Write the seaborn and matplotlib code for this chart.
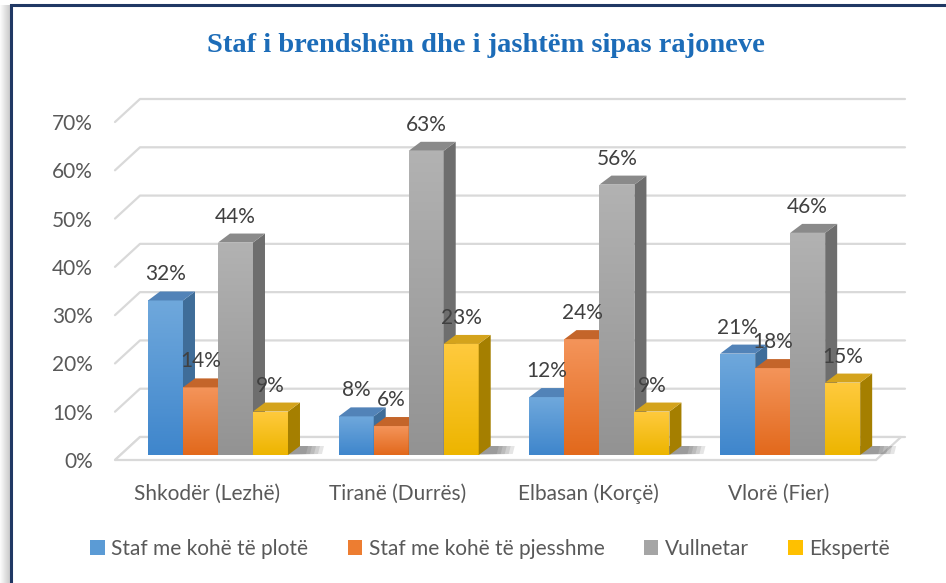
import numpy as np
import pandas as pd
import matplotlib.pyplot as plt
import seaborn as sns
from matplotlib.patches import Polygon, Patch, Rectangle
from matplotlib.colors import LinearSegmentedColormap
from matplotlib.transforms import ScaledTranslation

# Data
regions = ["Shkodër (Lezhë)", "Tiranë (Durrës)", "Elbasan (Korçë)", "Vlorë (Fier)"]
series = ["Staf me kohë të plotë", "Staf me kohë të pjesshme", "Vullnetar", "Ekspertë"]
full_time = [0.32, 0.08, 0.12, 0.21]
part_time = [0.14, 0.06, 0.24, 0.18]
volunteers = [0.44, 0.63, 0.56, 0.46]
experts = [0.09, 0.23, 0.09, 0.15]
y_ticks = [0.0, 0.1, 0.2, 0.3, 0.4, 0.5, 0.6, 0.7]

front_colors = ["#5B9BD5", "#ED7D31", "#A5A5A5", "#FFC000"]
grad_top = ["#6FA8DC", "#F4945A", "#B2B2B2", "#FFCA3E"]
grad_bottom = ["#3F86CC", "#E2691C", "#939393", "#EDB500"]
side_colors = ["#3F6D99", "#A9561E", "#6E6E6E", "#A57F00"]
top_colors = ["#5283B8", "#C4652A", "#8A8A8A", "#D4A31C"]
text_color = "#595959"

df = pd.DataFrame({
    "region": regions * 4,
    "staff": np.repeat(series, 4),
    "value": full_time + part_time + volunteers + experts,
})

sns.set_style("white")
plt.rcParams["font.family"] = ["Lato", "DejaVu Sans"]

W, H = 946, 583
fig = plt.figure(figsize=(W / 100, H / 100), dpi=100)

# frame with a soft shadow on the left
for i in range(10):
    fig.patches.append(Rectangle((i / W, 0), 1 / W, 1 - 5 / H, transform=fig.transFigure,
                                 color="black", alpha=0.02 + 0.02 * i, lw=0, zorder=0))
fig.patches.append(Rectangle((11 / W, -0.1), 1.2, 1 - 5 / H + 0.1, transform=fig.transFigure,
                             facecolor="white", edgecolor="#203864", lw=2.2, zorder=1))

ax = fig.add_axes([115 / W, (H - 460) / H, (876 - 115) / W, (460 - 122) / H])
ax.set_zorder(2)
sns.barplot(data=df, x="region", y="value", hue="staff", palette=front_colors,
            width=0.734, gap=0, saturation=1, errorbar=None, legend=False, ax=ax)
bars = sorted(ax.patches, key=lambda p: p.get_x())

xmin, xmax = -0.540, 3.450
sx = (xmax - xmin) / (876 - 115)   # data units per pixel
sy = 0.70 / (460 - 122)

# wall gridlines (front edge -> back wall)
wdx, wdy = 25 * sx, 23 * sy
for v in y_ticks:
    ax.plot([xmin, xmin + wdx, xmax + 29 * sx], [v, v + wdy, v + wdy],
            color="#D9D9D9", lw=1.6, clip_on=False, zorder=0.5)

# floor
ax.add_patch(Polygon([(xmin, 0), (xmax, 0), (xmax + wdx, wdy), (xmin + wdx, wdy)],
                     closed=True, facecolor="white", edgecolor="#D9D9D9", lw=1.6,
                     clip_on=False, zorder=0.6))

# 3D faces on each bar
lift = 5 * sy
bdx, bdy = 12 * sx, 9 * sy
for k, p in enumerate(bars):
    hue_i = k % 4
    x0 = p.get_x()
    x1 = x0 + p.get_width()
    h = p.get_height()
    b = lift
    t = lift + h
    z = 3 + k * 0.01
    # soft shadow on floor behind the bar
    for j in range(5):
        ax.add_patch(Polygon([(x0 + 4 * sx, b), (x1 + bdx + (6 + 4 * j) * sx, b + 1 * sy),
                              (x1 + bdx + (8 + 4 * j) * sx, b + bdy), (x0 + bdx, b + bdy)],
                             closed=True, facecolor="#303030", alpha=0.12, lw=0,
                             zorder=0.7, clip_on=False))
    p.set_y(b)
    p.set_zorder(z)
    p.set_linewidth(0)
    p.set_clip_on(False)
    cmap = LinearSegmentedColormap.from_list("g", [grad_bottom[hue_i], grad_top[hue_i]])
    img = ax.imshow(np.linspace(1, 0, 64).reshape(-1, 1), cmap=cmap, aspect="auto",
                    extent=[x0, x1, b, t], zorder=z, interpolation="bilinear")
    img.set_clip_path(p)
    ax.add_patch(Polygon([(x1, b), (x1, t), (x1 + bdx, t + bdy), (x1 + bdx, b + bdy)],
                         closed=True, facecolor=side_colors[hue_i], lw=0, zorder=z, clip_on=False))
    ax.add_patch(Polygon([(x0, t), (x1, t), (x1 + bdx, t + bdy), (x0 + bdx, t + bdy)],
                         closed=True, facecolor=top_colors[hue_i], lw=0, zorder=z, clip_on=False))
    ax.annotate(f"{h * 100:.0f}%", ((x0 + x1) / 2, t), xytext=(0, 26), textcoords="offset pixels",
                ha="center", va="center", fontsize=15, color="#404040", zorder=10)

ax.set_xlim(xmin, xmax)
ax.set_ylim(0, 0.70)

# axes styling
sns.despine(ax=ax, left=True, bottom=True)
ax.set_facecolor("none")
ax.set_xlabel("")
ax.set_ylabel("")
ax.set_xticks(range(len(regions)))
ax.set_xticklabels(regions)
ax.set_yticks(y_ticks)
ax.set_yticklabels([f"{v * 100:.0f}%" for v in y_ticks], fontsize=15, color=text_color)
ax.tick_params(axis="y", length=0, pad=16)
ax.tick_params(axis="x", length=0, pad=17, labelsize=15, labelcolor=text_color)
for lab in ax.get_xticklabels():
    lab.set_transform(lab.get_transform() + ScaledTranslation(-0.11, 0, fig.dpi_scale_trans))

fig.text(486 / W, 1 - 45 / H, "Staf i brendshëm dhe i jashtëm sipas rajoneve",
         ha="center", va="center", fontsize=20.5, fontweight="bold", color="#1C6CB8",
         family="Liberation Serif")

handles = [Patch(facecolor=c, edgecolor="none") for c in front_colors]
fig.legend(handles, series, loc="center", bbox_to_anchor=(490 / W, 1 - 549 / H), ncol=4,
           frameon=False, fontsize=15, handlelength=0.7, handleheight=0.7,
           handletextpad=0.3, columnspacing=1.9, labelcolor=text_color)

fig.savefig("out.png", dpi=100)
